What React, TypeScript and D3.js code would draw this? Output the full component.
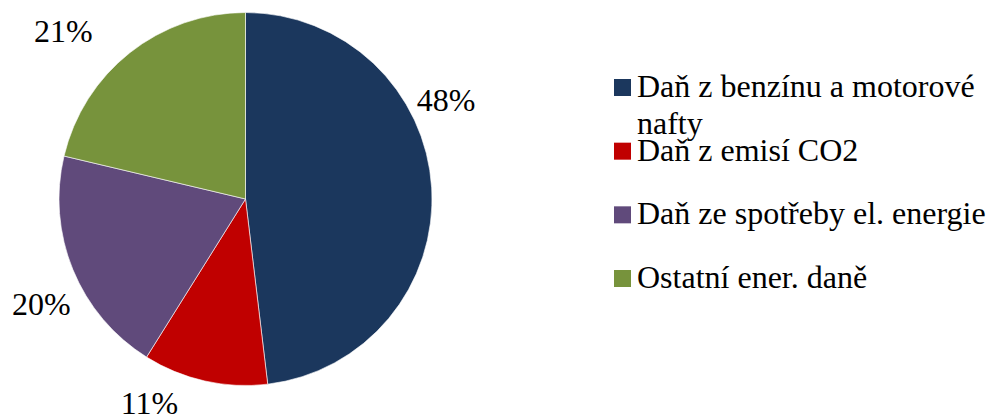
import React from "react";
import * as d3 from "d3";

const categories = [
  "Daň z benzínu a motorové nafty",
  "Daň z emisí CO2",
  "Daň ze spotřeby el. energie",
  "Ostatní ener. daně",
];
const legendLines = [
  ["Daň z benzínu a motorové", "nafty"],
  ["Daň z emisí CO2"],
  ["Daň ze spotřeby el. energie"],
  ["Ostatní ener. daně"],
];
const values = [48.1, 10.8, 19.8, 21.3];
const labels = ["48%", "11%", "20%", "21%"];
const colors = ["#1B375D", "#C00000", "#604A7B", "#77933C"];
// best-fit label placement (angle in degrees clockwise from top, radius factor)
const labelAngles = [63.7, 205.2, 242.9, 312.7];
const labelRadii = [1.2, 1.21, 1.23, 1.33];

const W = 992;
const H = 416;
const cx = 245.5;
const cy = 199;
const R = 186.5;
const FONT = "'Liberation Serif', 'Times New Roman', serif";

export default function App() {
  const pie = d3.pie<number>().sort(null).value((d) => d)(values);
  const arc = d3.arc<d3.PieArcDatum<number>>().innerRadius(0).outerRadius(R);
  const legendY = d3.scaleLinear().domain([0, 3]).range([97, 288]);

  return (
    <svg
      width={W}
      height={H}
      style={{ position: "absolute", left: 0, top: 0, background: "#fff" }}
    >
      <g transform={`translate(${cx},${cy})`}>
        {pie.map((p, i) => (
          <path key={i} d={arc(p) || ""} fill={colors[i]} stroke="#fff" strokeWidth={0.6} />
        ))}
        {labels.map((t, i) => {
          const a = (labelAngles[i] * Math.PI) / 180;
          const r = R * labelRadii[i];
          return (
            <text
              key={i}
              x={Math.sin(a) * r}
              y={-Math.cos(a) * r}
              dy="0.35em"
              textAnchor="middle"
              fontFamily={FONT}
              fontSize={32}
              fill="#000"
            >
              {t}
            </text>
          );
        })}
      </g>
      <g>
        {categories.map((c, i) => {
          const by = legendY(i);
          return (
            <g key={c}>
              <rect x={614} y={by - 18} width={17} height={17} fill={colors[i]} />
              <text x={637} y={by} fontFamily={FONT} fontSize={32} fill="#000">
                {legendLines[i].map((l, j) => (
                  <tspan key={j} x={637} dy={j === 0 ? 0 : 37}>
                    {l}
                  </tspan>
                ))}
              </text>
            </g>
          );
        })}
      </g>
    </svg>
  );
}
